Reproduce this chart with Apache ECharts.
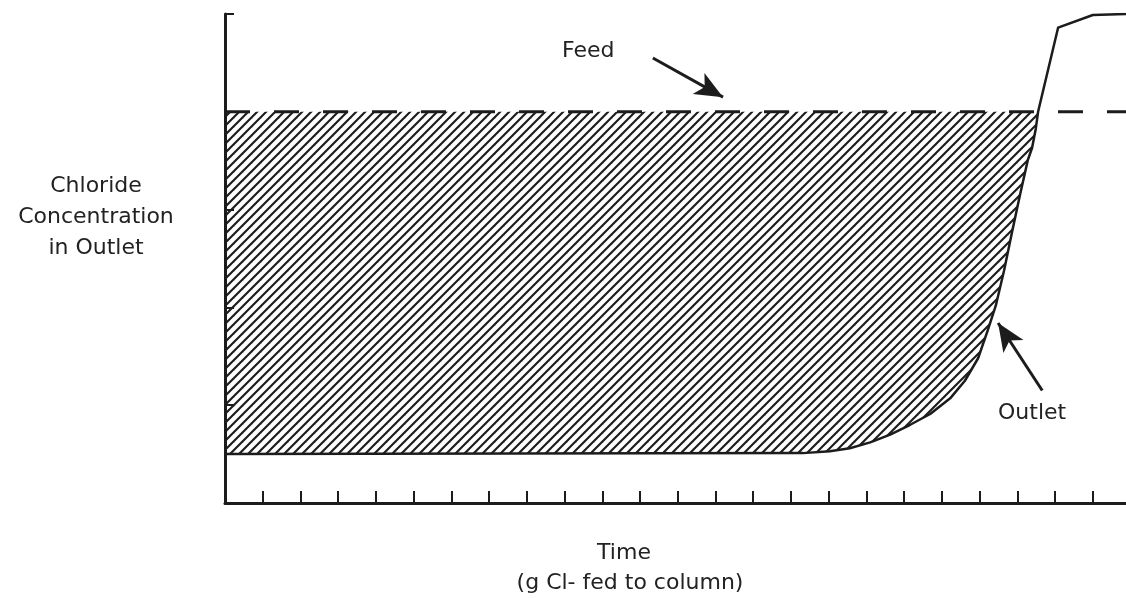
<!DOCTYPE html>
<html>
<head>
<meta charset="utf-8">
<script src="https://cdn.jsdelivr.net/npm/echarts@6/dist/echarts.min.js"></script>
<style>
  html, body { margin: 0; padding: 0; background: #ffffff; overflow: hidden; }
  #chart { width: 1126px; height: 599px; }
</style>
</head>
<body>
<div id="chart"></div>
<script>
// Breakthrough curve: chloride in the column outlet versus amount fed.
// x: g Cl- fed (tick units), y: concentration (tick units)
const timeFed = [0, 15.32, 16.03, 16.56, 17.10, 17.63, 18.16, 18.69, 19.22, 19.61, 19.96, 20.22, 20.43, 20.65, 20.86, 21.07, 21.28, 21.39, 21.49, 21.55, 22.08, 23.0, 23.88];
const outletConc = [0.5, 0.51, 0.53, 0.56, 0.62, 0.70, 0.80, 0.91, 1.07, 1.25, 1.48, 1.77, 2.02, 2.38, 2.77, 3.15, 3.51, 3.63, 3.83, 4.0, 4.86, 4.99, 5.0];
const feedConc = 4;
const xTickValues = [0, 1, 2, 3, 4, 5, 6, 7, 8, 9, 10, 11, 12, 13, 14, 15, 16, 17, 18, 19, 20, 21, 22, 23];
const xRange = { min: 0, max: 23.88 };
const yTicks = { min: 0, max: 5, step: 1 };

const INK = '#1c1c1c';

// diagonal hatch tile for the area of chloride retained by the column
function hatchTile() {
  const s = 9;
  const c = document.createElement('canvas');
  c.width = s; c.height = s;
  const g = c.getContext('2d');
  g.strokeStyle = INK;
  g.lineWidth = 2.1;
  g.lineCap = 'square';
  for (const k of [-s, 0, s]) {
    g.beginPath();
    g.moveTo(k, s);
    g.lineTo(k + s, 0);
    g.stroke();
  }
  return c;
}

const outletPts = timeFed.map((t, i) => [t, outletConc[i]]);
// part of the outlet curve that lies below the feed level
const retainedPts = outletPts.filter(p => p[1] <= feedConc);

const chart = echarts.init(document.getElementById('chart'), null, { renderer: 'canvas' });

const textStyle = { fontFamily: 'DejaVu Sans', fontSize: 22, fill: '#222', textAlign: 'center', textVerticalAlign: 'middle' };

chart.setOption({
  backgroundColor: '#ffffff',
  animation: false,
  grid: { left: 225, right: 0, top: 14, bottom: 96, containLabel: false },
  xAxis: {
    type: 'value', min: xRange.min, max: xRange.max, interval: 1,
    axisLine: { lineStyle: { color: INK, width: 3 } },
    axisTick: { inside: true, length: 12, customValues: xTickValues, lineStyle: { color: INK, width: 2 } },
    axisLabel: { show: false },
    splitLine: { show: false }
  },
  yAxis: {
    type: 'value', min: yTicks.min, max: yTicks.max, interval: yTicks.step,
    axisLine: { show: true, lineStyle: { color: INK, width: 3 } },
    axisTick: { show: true, inside: true, length: 9, lineStyle: { color: INK, width: 2 } },
    axisLabel: { show: false },
    splitLine: { show: false }
  },
  series: [
    {
      name: 'retained',
      type: 'line',
      data: retainedPts,
      symbol: 'none',
      lineStyle: { width: 0 },
      areaStyle: { origin: feedConc, color: { image: hatchTile(), repeat: 'repeat' }, opacity: 1 },
      z: 1
    },
    {
      name: 'Outlet',
      type: 'line',
      data: outletPts,
      symbol: 'none',
      lineStyle: { color: INK, width: 2.5, join: 'round' },
      z: 3
    },
    {
      name: 'Feed',
      type: 'line',
      data: [[xRange.min, feedConc], [xRange.max, feedConc]],
      symbol: 'none',
      lineStyle: { color: INK, width: 3, type: [25, 24] },
      z: 4,
      markLine: {
        silent: true,
        symbol: ['none', 'arrow'],
        symbolSize: [18, 28],
        label: { show: false },
        lineStyle: { color: INK, width: 3, type: 'solid' },
        data: [
          [{ coord: [11.34, 4.55] }, { coord: [13.2, 4.15] }],
          [{ coord: [21.66, 1.15] }, { coord: [20.49, 1.84] }]
        ]
      }
    }
  ],
  graphic: [
    { type: 'text', left: 562, top: 40, style: Object.assign({}, textStyle, { text: 'Feed', textAlign: 'left', textVerticalAlign: 'top' }) },
    { type: 'text', left: 998, top: 402, style: Object.assign({}, textStyle, { text: 'Outlet', textAlign: 'left', textVerticalAlign: 'top' }) },
    { type: 'text', x: 96, y: 186, style: Object.assign({}, textStyle, { text: 'Chloride' }) },
    { type: 'text', x: 96, y: 217, style: Object.assign({}, textStyle, { text: 'Concentration' }) },
    { type: 'text', x: 96, y: 248, style: Object.assign({}, textStyle, { text: 'in Outlet' }) },
    { type: 'text', x: 624, y: 553, style: Object.assign({}, textStyle, { text: 'Time' }) },
    { type: 'text', x: 630, y: 583, style: Object.assign({}, textStyle, { text: '(g Cl- fed to column)' }) }
  ]
});
</script>
</body>
</html>
